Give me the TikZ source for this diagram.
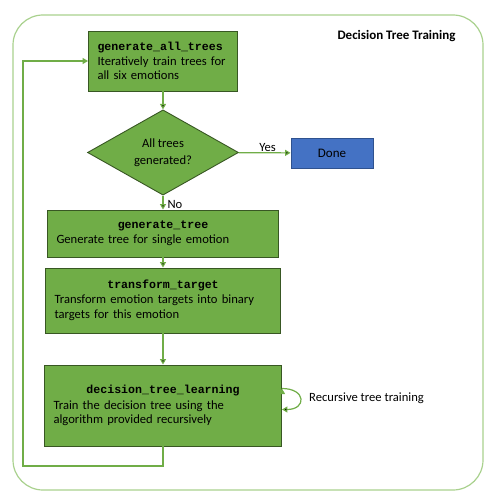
\documentclass[tikz,border=0pt]{standalone}
\usepackage{fontspec}
\setmainfont{Carlito}
\newfontfamily\codefont{Liberation Mono}
\usepackage{xcolor}
\usepackage{tikz}
\usetikzlibrary{
	arrows.meta,shapes
}

\definecolor{boxgreen}{RGB}{112,173,71}
\definecolor{boxedge}{RGB}{56,87,35}
\definecolor{framegreen}{RGB}{169,209,142}
\definecolor{doneblue}{RGB}{68,114,196}
\definecolor{doneedge}{RGB}{47,82,143}

\newcommand{\hdr}[1]{{\codefont\bfseries\fontsize{11.6}{14.5}\selectfont #1}}
\newcommand{\hdrc}[1]{\makebox[\hsize][c]{\hdr{#1}}}

\tikzset{
	stepbox/.style={rectangle,draw=boxedge,fill=boxgreen,line width=0.9pt,
		inner xsep=9pt,inner ysep=2pt,align=left,
		font=\fontsize{12.6}{14.8}\selectfont},
	decide/.style={diamond,draw=boxedge,fill=boxgreen,line width=0.9pt,
		minimum width=151pt,minimum height=81pt,inner sep=0pt,align=center,
		font=\fontsize{12.6}{16.5}\selectfont},
	donebox/.style={rectangle,draw=doneedge,fill=doneblue,line width=0.9pt,
		minimum width=82pt,minimum height=30pt,font=\fontsize{13}{14}\selectfont},
	frame/.style={rectangle,draw=framegreen,line width=1.2pt,rounded corners=30pt,
		minimum width=470pt,minimum height=475pt},
	flow/.style={draw=boxgreen,line width=1.2pt,-{Triangle[length=5.5pt,width=6pt]}},
	lbl/.style={font=\fontsize{12.6}{14}\selectfont,inner sep=1pt}
}

\begin{document}
\begin{tikzpicture}[x=1pt,y=-1pt]
		\useasboundingbox (0,0) rectangle (497,500);
		\node[frame] (frame) at (248,252.5) {};
		\node[font=\fontsize{13}{14}\selectfont\bfseries] (title) at (396.5,36) {Decision Tree Training};

		\node[stepbox,minimum width=149pt,minimum height=60pt,text width=131pt] (gall) at (163,61)
			{\hdr{generate\_all\_trees}\\Iteratively train trees for\\all six emotions};
		\node[decide] (check) at (163,152.5) {All trees\\generated?};
		\node[donebox] (done) at (332,153) {Done};

		\node[stepbox,minimum width=231pt,minimum height=47pt,text width=213pt] (gtree) at (163,233.5)
			{\hdrc{generate\_tree}\\Generate tree for single emotion};
		\node[stepbox,minimum width=235pt,minimum height=65pt,text width=217pt] (target) at (163,300.5)
			{\hdrc{transform\_target}\\Transform emotion targets into binary\\targets for this emotion};
		\node[stepbox,minimum width=237pt,minimum height=81pt,text width=219pt] (learn) at (163,405.5)
			{\hdrc{decision\_tree\_learning}\\[1pt]Train the decision tree using the\\algorithm provided recursively};

		\node[lbl,anchor=west] (recur) at (308,398) {Recursive tree training};
		\coordinate (back) at (23,466);
		%
		\path[flow]
			(gall) edge (check)
			(check) edge node[lbl,above,xshift=3pt] {Yes} (done)
			(check) edge node[lbl,right,yshift=-2pt,xshift=3pt] {No} (gtree)
			(gtree) edge (target)
			(target) edge (learn)
			([yshift=17pt]learn.east) edge[out=0,in=0,looseness=3] ([yshift=-4pt]learn.east);
		\draw[flow] (learn.south) |- (back) |- (gall.west);
	\end{tikzpicture}
\end{document}
